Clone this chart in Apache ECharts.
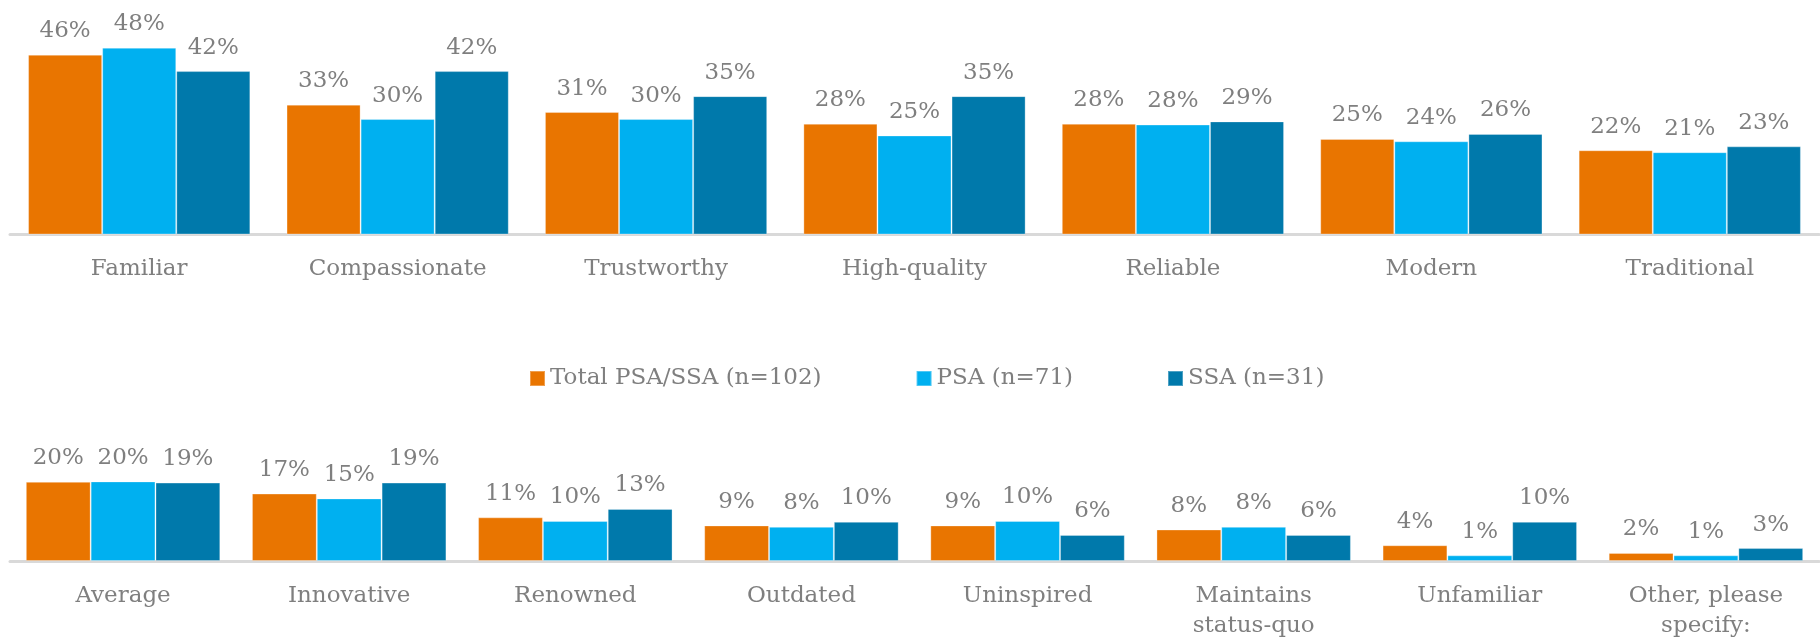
<!DOCTYPE html>
<html>
<head>
<meta charset="utf-8">
<script src="https://cdn.jsdelivr.net/npm/echarts@6/dist/echarts.min.js"></script>
<style>
html,body{margin:0;padding:0;background:#fff;}
#chart{width:1820px;height:641px;}
</style>
</head>
<body>
<div id="chart"></div>
<script>
// Top panel
const topCategories = ['Familiar','Compassionate','Trustworthy','High-quality','Reliable','Modern','Traditional'];
const topTotal = [46.1, 33.3, 31.4, 28.4, 28.4, 24.51, 21.6];
const topPSA   = [47.9, 29.6, 29.6, 25.4, 28.2, 23.9, 21.1];
const topSSA   = [41.9, 41.9, 35.48, 35.48, 29.0, 25.8, 22.6];
// Bottom panel
const botCategories = ['Average','Innovative','Renowned','Outdated','Uninspired','Maintains\nstatus-quo','Unfamiliar','Other, please\nspecify:'];
const botTotal = [19.6, 16.7, 10.8, 8.8, 8.8, 7.8, 3.9, 2.0];
const botPSA   = [19.7, 15.49, 9.9, 8.45, 9.9, 8.45, 1.4, 1.4];
const botSSA   = [19.4, 19.4, 12.9, 9.7, 6.45, 6.45, 9.7, 3.2];

const seriesNames = ['Total PSA/SSA (n=102)','PSA (n=71)','SSA (n=31)'];
const colors = ['#E97500','#00B0F0','#0079AB'];

const FONT = 'DejaVu Serif';
const TXT = '#7F7F7F';

function mkSeries(name, data, idx, color){
  return {
    name: name, type: 'bar', xAxisIndex: idx, yAxisIndex: idx,
    data: data, barGap: '0%', barCategoryGap: '14%',
    itemStyle: {color: color, borderColor: 'rgba(255,255,255,0.3)', borderWidth: 1},
    label: {show: true, position: 'top', distance: 12, color: TXT,
      fontFamily: FONT, fontSize: 23,
      formatter: p => Math.round(p.value) + '%'},
    emphasis: {disabled: true}
  };
}

const legendTextWidths = [294, 139, 139];

const chart = echarts.init(document.getElementById('chart'), null, {renderer: 'canvas'});
chart.setOption({
  animation: false,
  color: colors,
  legend: {
    data: seriesNames.map((n, i) => ({name: n, textStyle: {width: legendTextWidths[i]}})),
    left: 524, top: 362,
    itemWidth: 15, itemHeight: 15, itemGap: 94,
    icon: 'rect',
    textStyle: {color: TXT, fontFamily: FONT, fontSize: 23}
  },
  grid: [
    {left: 10, right: 1, top: 39.5, height: 195, containLabel: false},
    {left: 10, right: 1, top: 460, height: 104, containLabel: false}
  ],
  xAxis: [0,1].map(i => ({
    type: 'category', gridIndex: i,
    data: i === 0 ? topCategories : botCategories,
    axisLine: {show: true, lineStyle: {color: '#D9D9D9', width: 3}},
    axisTick: {show: false},
    axisLabel: {color: TXT, fontFamily: FONT, fontSize: 23, margin: 20, lineHeight: 30, interval: 0}
  })),
  yAxis: [
    {type: 'value', gridIndex: 0, min: 0, max: 50, show: false},
    {type: 'value', gridIndex: 1, min: 0, max: 25, show: false}
  ],
  series: [
    mkSeries(seriesNames[0], topTotal, 0, colors[0]),
    mkSeries(seriesNames[1], topPSA, 0, colors[1]),
    mkSeries(seriesNames[2], topSSA, 0, colors[2]),
    mkSeries(seriesNames[0], botTotal, 1, colors[0]),
    mkSeries(seriesNames[1], botPSA, 1, colors[1]),
    mkSeries(seriesNames[2], botSSA, 1, colors[2])
  ]
});
</script>
</body>
</html>
